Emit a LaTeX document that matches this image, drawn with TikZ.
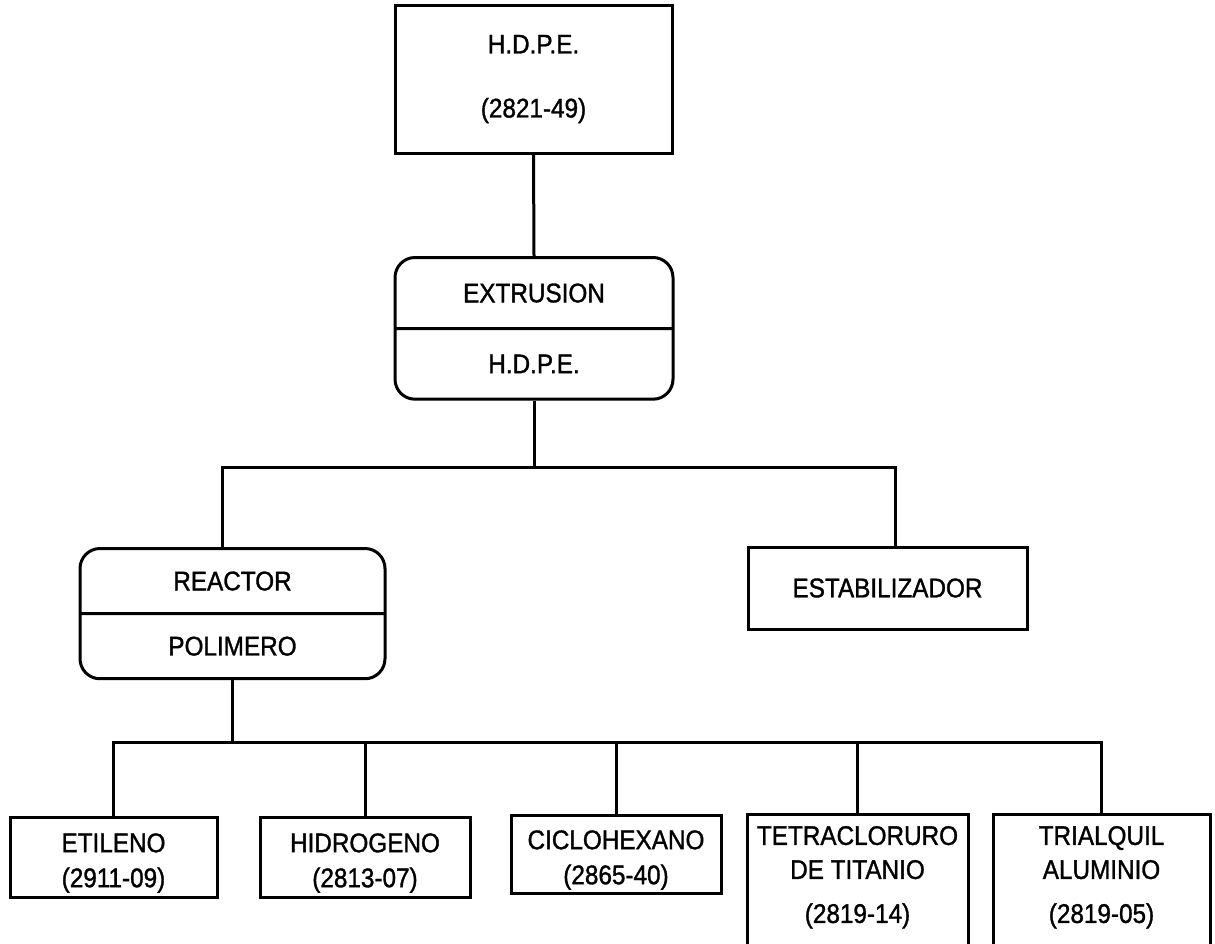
\documentclass[tikz,border=0pt]{standalone}
\usepackage{fontspec}
\setmainfont{Liberation Sans}[FakeStretch=0.9, FakeBold=1.2]
\usetikzlibrary{shapes.multipart, positioning, calc}

\tikzset{
    box/.style={draw, line width=3pt, inner sep=0pt, align=center, font=\fontsize{27}{30}\selectfont},
    splitbox/.style={draw, line width=3pt, rectangle split, rectangle split parts=2, rounded corners=20pt, inner xsep=0pt, align=center, font=\fontsize{27}{30}\selectfont},
    tallbox/.style={box, minimum height=142pt, anchor=north, text depth=22pt},
    link/.style={line width=3pt}
}
\newcommand{\lowstrut}{\rule{0pt}{31pt}}

\begin{document}
\begin{tikzpicture}[x=1pt, y=-1pt]
    \useasboundingbox (0,0) rectangle (1215,943);
    \clip (0,0) rectangle (1215,943);

    % Product
    \node[box, minimum width=277pt, minimum height=148pt] (hdpe) at (533.5,79) {H.D.P.E.\\[34pt](2821-49)};

    % Process steps
    \node[splitbox, minimum width=278pt, inner ysep=24.5pt, anchor=north] (extrusion) at (534,256)
        {EXTRUSION \nodepart{two} H.D.P.E.};
    \node[splitbox, minimum width=305pt, inner ysep=21.5pt, anchor=north] (reactor) at (232.5,547)
        {REACTOR \nodepart{two} POLIMERO};
    \node[box, minimum width=279pt, minimum height=82pt] (estab) at (887.5,588) {ESTABILIZADOR};

    % Raw materials
    \node[box, minimum width=207pt, minimum height=80pt] (etileno) at (113.5,857) {\lowstrut ETILENO\\[5pt](2911-09)};
    \node[box, minimum width=210pt, minimum height=80pt] (hidrogeno) at (365,857) {\lowstrut HIDROGENO\\[5pt](2813-07)};
    \node[box, minimum width=210pt, minimum height=78pt] (ciclohexano) at (616,854) {\lowstrut CICLOHEXANO\\[5pt](2865-40)};
    \node[tallbox, minimum width=221pt] (tetracloruro) at (857.5,813)
        {TETRACLORURO\\[4pt]DE TITANIO\\[14pt](2819-14)};
    \node[tallbox, minimum width=217pt] (trialquil) at (1101.5,813)
        {TRIALQUIL\\[4pt]ALUMINIO\\[14pt](2819-05)};

    % Connectors
    \draw[link] (hdpe.south) -- (extrusion.north);
    \coordinate (upbus) at (534,467);
    \coordinate (reactorin) at (222,467);
    \coordinate (estabin) at (895,467);
    \draw[link] (extrusion.south) -- (upbus);
    \draw[link] (reactorin |- reactor.north) -- (reactorin) -- (estabin) -- (estabin |- estab.north);

    \coordinate (lowbus) at (0,742);
    \draw[link] (reactor.south) -- (reactor.south |- lowbus);
    \draw[link] (etileno.north) -- (etileno.north |- lowbus) -- (trialquil.north |- lowbus) -- (trialquil.north);
    \foreach \n in {hidrogeno, ciclohexano, tetracloruro}
        \draw[link] (\n.north) -- (\n.north |- lowbus);
\end{tikzpicture}
\end{document}
